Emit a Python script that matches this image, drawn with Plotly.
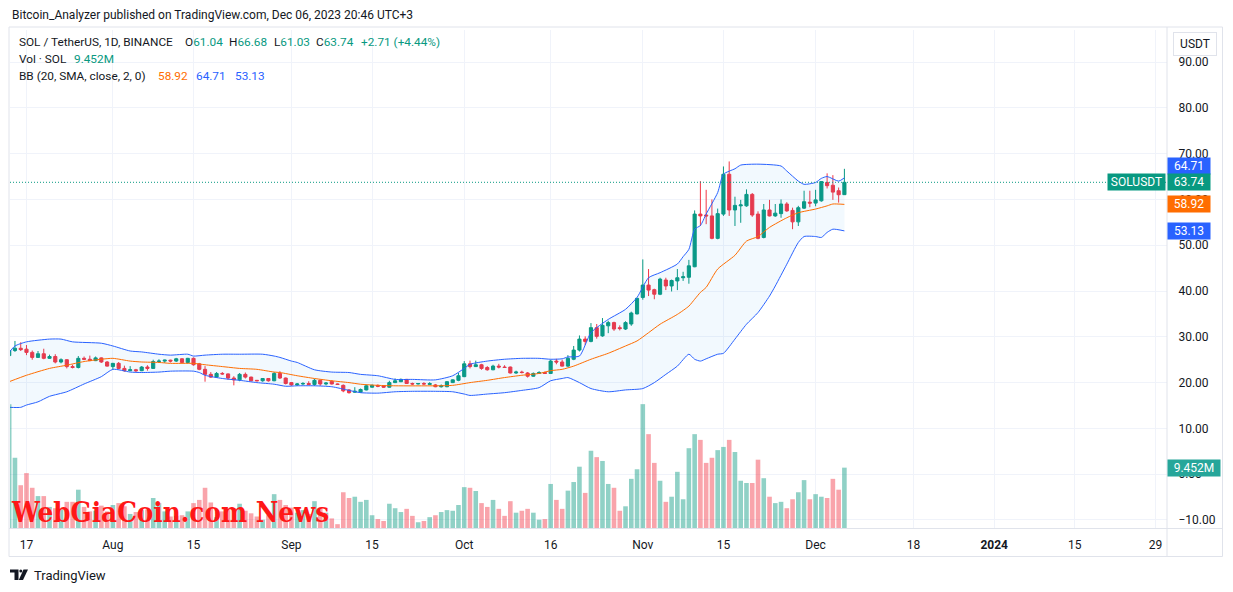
import pandas as pd
import plotly.graph_objects as go

# ---------------- data ----------------
start_date = "2023-07-14"
open_ = [25.9, 27.0, 27.5, 27.3, 26.6, 25.5, 26.3, 25.3, 25.7, 24.5,
         25.0, 23.5, 23.3, 25.3, 25.1, 24.8, 25.4, 24.5, 23.5, 24.2,
         23.1, 22.6, 22.8, 22.6, 23.4, 23.1, 24.6, 24.7, 24.9, 24.7,
         25.2, 24.4, 25.3, 24.1, 22.9, 21.8, 21.2, 22.0, 21.9, 21.0,
         20.6, 21.8, 21.2, 20.5, 20.4, 20.9, 20.4, 22.0, 21.0, 20.0,
         19.5, 19.7, 19.8, 19.6, 20.5, 19.7, 20.3, 19.7, 19.4, 18.4,
         17.9, 17.9, 18.4, 19.0, 19.4, 19.3, 19.0, 20.0, 20.2, 20.7,
         19.8, 19.7, 19.8, 19.6, 19.5, 19.1, 19.1, 20.0, 20.5, 21.3,
         24.1, 23.5, 23.9, 23.3, 22.8, 23.6, 23.4, 23.4, 22.1, 22.3,
         22.1, 21.4, 22.0, 22.2, 22.0, 24.7, 24.5, 23.6, 25.1, 27.1,
         29.5, 29.0, 32.0, 30.2, 32.4, 33.1, 32.0, 31.7, 32.8, 35.0,
         38.6, 41.3, 40.3, 39.3, 42.4, 41.1, 42.2, 42.9, 43.0, 45.3,
         56.8, 56.6, 56.4, 51.5, 56.8, 65.5, 57.7, 58.6, 58.6, 61.1,
         56.8, 51.7, 57.7, 56.4, 56.9, 59.0, 57.6, 55.1, 58.1, 59.4,
         59.2, 59.7, 63.7, 63.1, 61.9, 61.04]
high_ = [32.4, 29.1, 28.8, 28.2, 27.0, 26.9, 27.4, 26.1, 26.2, 25.3,
         25.1, 23.9, 25.8, 25.7, 25.9, 25.7, 25.5, 24.7, 24.3, 24.5,
         23.7, 23.6, 23.0, 23.6, 23.8, 25.0, 25.1, 25.0, 25.0, 25.4,
         25.3, 25.4, 25.5, 24.3, 23.6, 22.3, 22.3, 22.3, 22.0, 21.4,
         22.1, 22.2, 21.3, 20.5, 21.0, 21.0, 22.3, 22.5, 21.1, 20.1,
         19.9, 20.1, 20.3, 20.8, 20.7, 20.1, 20.5, 19.8, 19.6, 18.6,
         19.0, 18.7, 19.6, 19.6, 19.6, 19.4, 20.4, 20.9, 20.9, 20.8,
         20.0, 19.9, 20.1, 20.1, 19.7, 19.6, 20.3, 20.7, 22.1, 24.7,
         24.8, 24.8, 24.1, 23.6, 23.9, 24.1, 23.8, 23.5, 22.6, 22.6,
         22.3, 22.2, 22.5, 22.4, 25.0, 25.2, 25.0, 26.0, 28.0, 30.3,
         30.1, 33.0, 32.8, 34.1, 33.5, 33.3, 32.5, 33.4, 35.5, 38.5,
         46.9, 44.8, 40.5, 42.9, 42.9, 42.5, 44.8, 44.2, 46.8, 57.6,
         64.0, 62.1, 60.0, 58.0, 67.2, 68.3, 60.6, 59.9, 62.2, 61.4,
         57.4, 59.0, 59.9, 59.0, 60.0, 59.4, 58.2, 58.6, 61.9, 61.9,
         62.1, 64.0, 65.7, 65.3, 62.6, 66.68]
low_ = [25.5, 26.7, 26.9, 26.0, 25.0, 25.4, 25.1, 25.2, 24.2, 24.2,
        23.1, 23.1, 23.1, 24.9, 24.7, 24.7, 24.3, 23.5, 22.9, 22.9,
        22.4, 22.5, 22.3, 22.5, 22.6, 23.0, 24.3, 24.3, 24.4, 24.5,
        24.3, 24.2, 23.7, 22.7, 20.2, 21.0, 21.1, 21.7, 20.6, 19.4,
        20.3, 20.9, 20.3, 20.3, 20.2, 20.2, 20.3, 20.8, 19.6, 19.3,
        19.3, 19.5, 19.4, 19.3, 19.3, 19.4, 19.6, 19.5, 17.9, 17.6,
        17.8, 17.8, 18.3, 18.9, 19.0, 18.9, 18.9, 19.9, 20.1, 19.7,
        19.5, 19.6, 19.5, 19.5, 19.0, 18.9, 19.0, 19.9, 20.3, 21.2,
        23.1, 23.4, 22.8, 22.6, 22.7, 23.1, 23.2, 22.0, 21.9, 22.0,
        21.1, 21.3, 21.9, 21.9, 21.9, 24.0, 23.5, 23.4, 24.9, 26.8,
        28.2, 28.8, 29.6, 30.0, 30.8, 31.3, 31.4, 31.5, 32.4, 34.9,
        38.1, 38.9, 38.2, 39.1, 40.2, 39.9, 40.2, 42.2, 41.6, 45.2,
        54.2, 54.6, 51.3, 51.3, 56.4, 56.4, 54.2, 54.9, 58.4, 56.2,
        51.3, 51.5, 56.3, 56.2, 56.0, 57.3, 53.5, 54.2, 57.9, 58.3,
        58.5, 59.5, 62.4, 59.9, 59.3, 61.03]
close_ = [27.0, 27.5, 27.2, 26.6, 25.5, 26.3, 25.3, 25.7, 24.5, 25.0,
          23.5, 23.3, 25.3, 25.1, 24.8, 25.4, 24.5, 23.6, 24.2, 23.1,
          22.6, 22.8, 22.6, 23.4, 23.1, 24.6, 24.7, 24.9, 24.7, 25.2,
          24.4, 25.3, 23.9, 22.9, 21.8, 21.2, 22.0, 21.9, 21.0, 20.6,
          21.8, 21.2, 20.4, 20.4, 20.9, 20.4, 22.0, 21.0, 19.8, 19.5,
          19.7, 19.8, 19.6, 20.5, 19.7, 19.9, 19.7, 19.6, 18.2, 17.8,
          18.1, 18.5, 19.3, 19.4, 19.2, 19.0, 20.0, 20.4, 20.7, 19.8,
          19.7, 19.8, 19.7, 19.8, 19.1, 19.3, 20.2, 20.6, 21.5, 24.1,
          23.5, 23.9, 23.1, 22.8, 23.6, 23.4, 23.3, 22.1, 22.3, 22.2,
          21.4, 22.0, 22.2, 22.0, 24.7, 24.5, 23.6, 25.3, 27.1, 29.5,
          29.0, 32.0, 30.1, 32.5, 33.1, 31.7, 31.8, 33.1, 35.2, 38.4,
          41.3, 40.2, 39.3, 42.6, 41.1, 42.3, 42.9, 43.1, 45.5, 56.8,
          56.4, 56.4, 51.5, 56.9, 65.5, 57.7, 58.7, 58.8, 61.1, 56.6,
          51.5, 57.7, 56.4, 57.0, 59.0, 57.5, 55.1, 58.2, 59.5, 59.2,
          59.9, 63.9, 63.0, 61.6, 61.03, 63.74]
volume_m = [19.4, 11.0, 6.7, 8.6, 6.3, 5.0, 5.0, 3.3, 3.1, 2.9,
            4.1, 4.1, 6.0, 3.3, 2.6, 2.7, 3.5, 2.6, 3.6, 3.9,
            3.4, 2.2, 2.5, 2.8, 2.9, 4.7, 3.9, 2.6, 1.8, 1.9,
            2.0, 2.6, 3.9, 4.4, 6.3, 4.0, 1.7, 2.6, 2.8, 3.1,
            3.8, 2.7, 2.3, 1.8, 1.3, 2.0, 5.3, 4.4, 3.6, 3.2,
            2.4, 2.8, 2.2, 4.2, 3.0, 2.4, 1.5, 0.6, 5.6, 4.7,
            4.9, 4.1, 4.4, 2.0, 1.4, 1.1, 3.8, 3.1, 2.5, 3.0,
            1.9, 0.9, 1.1, 1.7, 2.0, 2.5, 2.8, 2.7, 3.6, 6.4,
            6.3, 5.8, 3.9, 3.3, 4.4, 3.0, 1.9, 4.2, 2.4, 2.7,
            3.0, 2.4, 1.3, 1.4, 6.9, 4.4, 3.0, 5.85, 7.2, 9.6,
            5.5, 12.1, 11.1, 10.5, 6.9, 6.3, 2.7, 3.4, 7.7, 9.2,
            19.4, 14.7, 10.2, 7.4, 4.1, 4.9, 8.8, 4.5, 12.5, 14.7,
            13.8, 10.2, 11.0, 12.2, 12.7, 13.8, 11.9, 7.4, 7.05, 7.05,
            10.7, 7.8, 4.9, 3.9, 4.1, 3.1, 4.5, 5.6, 7.5, 4.5,
            5.3, 4.9, 4.7, 7.7, 6.0, 9.452]

# Bollinger bands, read at sampled day offsets from start_date
bb_upper_day = [0, 1, 3, 7, 9, 11, 16, 18, 21, 23, 26, 28, 31, 32, 34, 37, 40, 44, 46, 47,
                49, 50, 53, 56, 59, 61, 64, 67, 70, 74, 77, 79, 80, 83, 86, 89, 92, 94, 96, 97,
                99, 101, 104, 107, 109, 111, 113, 116, 117, 118, 119, 120, 121, 123, 124, 126,
                127, 130, 134, 135, 137, 138, 140, 141, 142, 144, 145]
bb_upper = [26.6, 28.0, 28.9, 29.5, 29.5, 28.9, 28.6, 28.0, 26.9, 26.7, 26.2, 26.0, 26.2, 25.8,
            26.0, 26.2, 26.2, 26.2, 25.8, 25.5, 24.7, 24.4, 22.8, 22.3, 22.2, 21.8, 21.5, 20.7,
            20.7, 20.6, 21.5, 23.1, 24.0, 24.7, 25.1, 25.3, 25.3, 25.1, 25.2, 25.6, 25.8, 30.9,
            33.8, 36.0, 38.6, 42.9, 44.0, 45.9, 47.5, 49.1, 53.5, 54.3, 56.8, 61.5, 65.5, 66.7,
            67.5, 67.7, 67.3, 66.2, 64.0, 63.3, 63.7, 64.6, 65.0, 64.0, 64.71]
bb_mid_day = [0, 3, 7, 10, 13, 16, 18, 21, 23, 26, 28, 32, 34, 37, 40, 43, 46, 47, 50, 53,
              56, 59, 61, 64, 67, 74, 77, 80, 83, 86, 89, 92, 94, 96, 98, 101, 104, 107, 109,
              111, 113, 116, 118, 119, 120, 121, 123, 126, 128, 130, 132, 135, 137, 140, 142,
              143, 145]
bb_mid = [20.2, 21.6, 23.1, 23.8, 24.6, 25.1, 25.3, 24.7, 24.5, 24.4, 24.2, 24.2, 23.9, 23.5,
          23.1, 22.9, 22.3, 22.2, 21.5, 20.9, 20.4, 20.0, 19.65, 19.4, 19.3, 19.3, 19.4, 20.0,
          20.5, 21.1, 21.6, 22.0, 22.6, 22.9, 23.6, 25.1, 26.4, 28.0, 29.1, 30.9, 32.75, 34.9,
          36.7, 38.2, 39.7, 40.8, 44.8, 47.8, 50.9, 51.9, 53.9, 56.0, 57.1, 57.9, 58.6, 59.0,
          58.92]
bb_lower_day = [0, 2, 3, 5, 7, 10, 13, 16, 18, 21, 23, 26, 28, 32, 33, 34, 37, 40, 43, 46,
                48, 50, 53, 56, 59, 61, 64, 67, 70, 74, 77, 79, 80, 83, 86, 89, 92, 94, 96, 97,
                99, 101, 104, 107, 110, 112, 114, 116, 118, 119, 120, 121, 123, 124, 126, 128,
                130, 132, 133, 135, 137, 138, 140, 141, 142, 143, 145]
bb_lower = [14.6, 14.6, 15.1, 15.8, 17.0, 18.0, 19.7, 21.3, 22.9, 22.3, 22.2, 22.3, 22.5, 22.5,
            22.2, 21.6, 20.9, 20.5, 20.0, 19.65, 19.2, 19.3, 19.3, 19.1, 18.3, 17.8, 17.7, 18.0,
            18.1, 18.1, 18.0, 17.5, 17.2, 17.5, 17.8, 18.3, 18.9, 20.4, 20.9, 21.1, 20.0, 18.7,
            18.0, 18.4, 18.7, 20.0, 21.8, 23.6, 26.2, 25.1, 24.7, 25.2, 26.2, 26.4, 29.5, 32.75,
            35.3, 38.9, 41.1, 45.85, 50.6, 51.9, 51.9, 51.7, 52.8, 53.5, 53.13]

tick_dates = ["2023-07-17", "2023-08-01", "2023-08-15", "2023-09-01", "2023-09-15",
              "2023-10-01", "2023-10-16", "2023-11-01", "2023-11-15", "2023-12-01",
              "2023-12-18", "2024-01-01", "2024-01-15", "2024-01-29"]
tick_text = ["17", "Aug", "15", "Sep", "15", "Oct", "16", "Nov", "15", "Dec", "18",
             "<b>2024</b>", "15", "29"]
price_ticks = [-10, 0, 10, 20, 30, 40, 50, 60, 70, 80, 90]

# ---------------- styling ----------------
FONT = "Roboto, 'Liberation Sans', sans-serif"
TXT = "#131722"
UP = "#089981"
DN = "#F23645"
BLUE = "#2962FF"
ORANGE = "#FF6D00"
GRID = "#f0f3fa"
BORDER = "#e0e3eb"

W, H = 1233, 592
L, R, T, B = 10, 1167, 30, 528


def px(x):
    return (x - L) / (R - L)


def py(y):
    return (B - y) / (B - T)


start = pd.Timestamp(start_date)
dates = pd.date_range(start_date, periods=len(close_), freq="D")
up_dates = [start + pd.Timedelta(days=d) for d in bb_upper_day]
mid_dates = [start + pd.Timedelta(days=d) for d in bb_mid_day]
low_dates = [start + pd.Timedelta(days=d) for d in bb_lower_day]

vol_colors = ["rgba(8,153,129,0.45)" if c >= o else "rgba(242,54,69,0.45)"
              for o, c in zip(open_, close_)]

fig = go.Figure()

fig.add_trace(go.Scatter(x=up_dates, y=bb_upper, mode="lines",
                         line=dict(color=BLUE, width=1, shape="spline", smoothing=0.6),
                         hoverinfo="skip"))
fig.add_trace(go.Scatter(x=low_dates, y=bb_lower, mode="lines",
                         line=dict(color=BLUE, width=1, shape="spline", smoothing=0.6),
                         fill="tonexty", fillcolor="rgba(33,150,243,0.06)",
                         hoverinfo="skip"))
fig.add_trace(go.Scatter(x=mid_dates, y=bb_mid, mode="lines",
                         line=dict(color=ORANGE, width=1, shape="spline", smoothing=0.6),
                         hoverinfo="skip"))

fig.add_trace(go.Bar(x=dates, y=volume_m, marker=dict(color=vol_colors, line=dict(width=0)),
                     yaxis="y2", hoverinfo="skip"))

fig.add_trace(go.Candlestick(
    x=dates, open=open_, high=high_, low=low_, close=close_,
    increasing=dict(line=dict(color=UP, width=1), fillcolor=UP),
    decreasing=dict(line=dict(color=DN, width=1), fillcolor=DN),
    whiskerwidth=0, hoverinfo="skip"))

x_start = start + pd.Timedelta(days=(L - 9.2) / 5.76)
x_end = start + pd.Timedelta(days=(R - 9.2) / 5.76)

fig.update_layout(
    width=W, height=H,
    margin=dict(l=L, r=W - R, t=T, b=H - B, pad=0),
    paper_bgcolor="white", plot_bgcolor="white",
    showlegend=False, boxgap=0.22, bargap=0.2,
    font=dict(family=FONT, size=12, color=TXT),
    xaxis=dict(type="date", range=[x_start, x_end], rangeslider=dict(visible=False),
               tickvals=tick_dates, ticktext=tick_text, showgrid=True, gridcolor=GRID,
               gridwidth=1, zeroline=False, showline=False, ticks="outside", ticklen=6,
               tickcolor="rgba(0,0,0,0)", tickfont=dict(size=12, color=TXT, family=FONT),
               fixedrange=True),
    yaxis=dict(side="right", range=[-11.75, 97], tickvals=price_ticks, tickformat=".2f",
               showgrid=True, gridcolor=GRID, gridwidth=1, zeroline=False, showline=False,
               ticks="outside", ticklen=8, tickcolor="rgba(0,0,0,0)",
               tickfont=dict(size=12, color=TXT, family=FONT), fixedrange=True),
    yaxis2=dict(overlaying="y", range=[0, 78], visible=False, fixedrange=True),
)

shapes = []
# last price dotted line
shapes.append(dict(type="line", xref="paper", yref="y", x0=0, x1=1, y0=close_[-1], y1=close_[-1],
                   line=dict(color=UP, width=1, dash="1px,2px")))
# frame
shapes.append(dict(type="rect", xref="paper", yref="paper", x0=px(9), x1=px(1222.5),
                   y0=py(556.5), y1=py(27), line=dict(color=BORDER, width=1)))
shapes.append(dict(type="line", xref="paper", yref="paper", x0=1, x1=1,
                   y0=py(556.5), y1=py(27), line=dict(color=BORDER, width=1)))
shapes.append(dict(type="line", xref="paper", yref="paper", x0=px(9), x1=px(1222.5),
                   y0=py(528.5), y1=py(528.5), line=dict(color=BORDER, width=1)))
# TradingView logo (footer)
shapes.append(dict(type="path", xref="paper", yref="paper",
                   path="M {} {} L {} {} L {} {} L {} {} L {} {} L {} {} Z".format(
                       px(10), py(569.5), px(18.5), py(569.5), px(18.5), py(580),
                       px(14.5), py(580), px(14.5), py(572.5), px(10), py(572.5)),
                   fillcolor=TXT, line=dict(width=0)))
shapes.append(dict(type="circle", xref="paper", yref="paper", x0=px(19.3), x1=px(22.3),
                   y0=py(569.5), y1=py(572.5), fillcolor=TXT, line=dict(width=0)))
shapes.append(dict(type="path", xref="paper", yref="paper",
                   path="M {} {} L {} {} L {} {} L {} {} Z".format(
                       px(23.5), py(569.5), px(28), py(569.5), px(23), py(580),
                       px(18.8), py(580)),
                   fillcolor=TXT, line=dict(width=0)))
fig.update_layout(shapes=shapes)

ann = []


def text_at(x, y, text, size=12, color=TXT, xanchor="left", family=FONT):
    ann.append(dict(xref="paper", yref="paper", x=px(x), y=py(y), text=text, showarrow=False,
                    xanchor=xanchor, yanchor="middle",
                    font=dict(family=family, size=size, color=color)))


def span(t, c):
    return '<span style="color:{}">{}</span>'.format(c, t)


text_at(10, 15, "Bitcoin_Analyzer published on TradingView.com, Dec 06, 2023 20:46 UTC+3", size=12)
# legend line 1
text_at(17, 42, "SOL / TetherUS, 1D, BINANCE", size=11.8)
text_at(183, 42, "O" + span("{:.2f}".format(open_[-1]), UP), size=11.8)
text_at(227, 42, "H" + span("{:.2f}".format(high_[-1]), UP), size=11.8)
text_at(272, 42, "L" + span("{:.2f}".format(low_[-1]), UP), size=11.8)
text_at(314, 42, "C" + span("{:.2f}".format(close_[-1]), UP), size=11.8)
chg = close_[-1] - close_[-2]
text_at(359, 42, span("{:+.2f} ({:+.2f}%)".format(chg, chg / close_[-2] * 100), UP), size=11.8)
# legend line 2
text_at(17, 59, "Vol · SOL", size=11.8)
text_at(72, 59, span("{:.3f}M".format(volume_m[-1]), UP), size=11.8)
# legend line 3
text_at(17, 76, "BB (20, SMA, close, 2, 0)", size=11.8)
text_at(156, 76, span("{:.2f}".format(bb_mid[-1]), ORANGE), size=11.8)
text_at(194, 76, span("{:.2f}".format(bb_upper[-1]), BLUE), size=11.8)
text_at(233, 76, span("{:.2f}".format(bb_lower[-1]), BLUE), size=11.8)

# footer
text_at(32, 575, "TradingView", size=13)

# watermark
text_at(9, 512, "<b>WebGiaCoin.com News</b>", size=27.5, color="#ff1717",
        family="'DejaVu Serif Condensed', 'DejaVu Serif', serif")


def axis_label(val, text, bg, yref="y", width=40, yshift=0, x=1.0, xanchor="left"):
    ann.append(dict(xref="paper", yref=yref, x=x, y=val, text=text, showarrow=False,
                    xanchor=xanchor, yanchor="middle", yshift=yshift,
                    width=width, height=14, borderpad=1, bgcolor=bg, align="center",
                    font=dict(family=FONT, size=12, color="white")))


axis_label(bb_upper[-1], "{:.2f}".format(bb_upper[-1]), BLUE, yshift=11.5)
axis_label(close_[-1], "{:.2f}".format(close_[-1]), UP)
axis_label(close_[-1], "SOLUSDT", UP, width=55, x=px(1166), xanchor="right")
axis_label(bb_mid[-1], "{:.2f}".format(bb_mid[-1]), ORANGE)
axis_label(bb_lower[-1], "{:.2f}".format(bb_lower[-1]), BLUE)
axis_label(volume_m[-1], "{:.3f}M".format(volume_m[-1]), "#26a69a", yref="y2", width=50)

# USDT button
ann.append(dict(xref="paper", yref="paper", x=px(1195), y=py(44), text="USDT", showarrow=False,
                xanchor="center", yanchor="middle", width=40, height=20, borderpad=1,
                bgcolor="white", bordercolor=BORDER, borderwidth=1,
                font=dict(family=FONT, size=12, color=TXT)))

fig.update_layout(annotations=ann)

fig.write_html("out.html", config={"displayModeBar": False, "staticPlot": True},
               post_script="document.body.style.margin='0';document.body.style.overflow='hidden';")
